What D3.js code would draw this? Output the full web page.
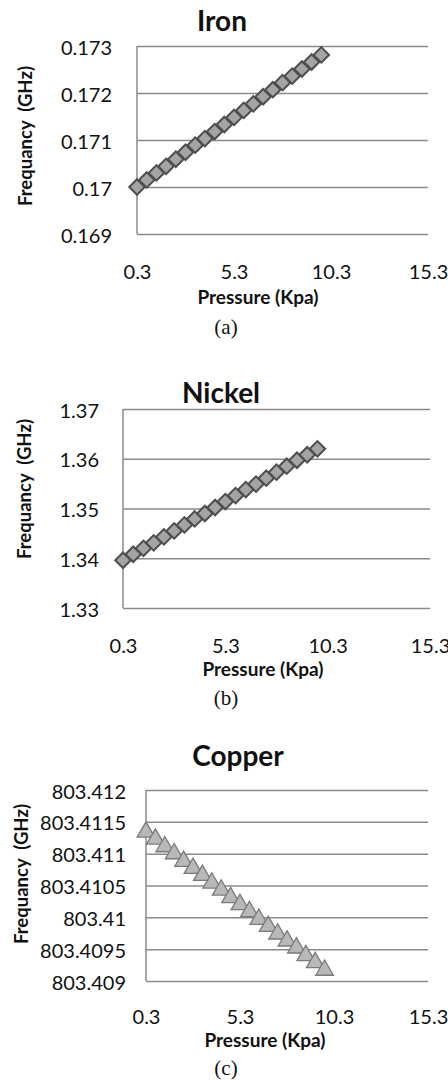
<!DOCTYPE html>
<html>
<head>
<meta charset="utf-8">
<title>Frequency vs pressure</title>
<script src="https://cdn.jsdelivr.net/npm/d3@7"></script>
<style>
  body { margin: 0; background: #fff; }
  svg { display: block; }
  text { font-family: Lato, "Open Sans", sans-serif; fill: #111; }
  .ytitle { white-space: pre; }
</style>
</head>
<body>
<div id="content"></div>
<script>
// pressure steps (Kpa), shared by all three samples
var pressure = [0.3, 0.8, 1.3, 1.8, 2.3, 2.8, 3.3, 3.8, 4.3, 4.8,
                5.3, 5.8, 6.3, 6.8, 7.3, 7.8, 8.3, 8.8, 9.3, 9.8];

var iron = [0.17000, 0.17015, 0.17030, 0.17044, 0.17059, 0.17074, 0.17089, 0.17103, 0.17118, 0.17133,
            0.17148, 0.17163, 0.17177, 0.17192, 0.17207, 0.17222, 0.17236, 0.17251, 0.17266, 0.17281];
var nickel = [1.3396, 1.3408, 1.3420, 1.3431, 1.3443, 1.3455, 1.3467, 1.3479, 1.3490, 1.3502,
              1.3514, 1.3526, 1.3538, 1.3549, 1.3561, 1.3573, 1.3585, 1.3597, 1.3608, 1.3620];
var copper = [803.41134, 803.41123, 803.41111, 803.41100, 803.41088, 803.41077, 803.41066, 803.41054, 803.41043, 803.41031,
              803.41020, 803.41009, 803.40997, 803.40986, 803.40974, 803.40963, 803.40952, 803.40940, 803.40929, 803.40917];

var xTicks = [0.3, 5.3, 10.3, 15.3];
var ironTicks = ["0.169", "0.17", "0.171", "0.172", "0.173"];
var nickelTicks = ["1.33", "1.34", "1.35", "1.36", "1.37"];
var copperTicks = ["803.409", "803.4095", "803.41", "803.4105", "803.411", "803.4115", "803.412"];

var svg = d3.select("#content").append("svg").attr("width", 448).attr("height", 1081);

var gridColor = "#8a8a8a";

function drawPanel(p) {
  var x = d3.scaleLinear().domain([0.3, 15.3]).range([p.left, p.right]);
  var yVals = p.ticks.map(Number);
  var y = d3.scaleLinear().domain(d3.extent(yVals)).range([p.bottom, p.top]);
  var g = svg.append("g");

  // gridlines + y tick labels
  var yAxis = d3.axisLeft(y).tickValues(yVals)
    .tickSize(-(p.right - p.left))
    .tickPadding(p.left - p.labelRight)
    .tickFormat(function(d, i) { return p.ticks[i]; });
  var ya = g.append("g").attr("transform", "translate(" + p.left + ",0)").call(yAxis);
  ya.select(".domain").remove();
  ya.selectAll("line").attr("stroke", gridColor).attr("stroke-width", 1.5);
  ya.selectAll("text").attr("font-size", 20).attr("fill", "#222")
    .style("font-family", "Lato, sans-serif").attr("dy", "0.4em");

  g.append("line").attr("x1", p.left).attr("x2", p.left)
    .attr("y1", p.top).attr("y2", p.bottom)
    .attr("stroke", gridColor).attr("stroke-width", 1.5);

  // x tick labels
  var xAxis = d3.axisBottom(x).tickValues(xTicks).tickSize(0)
    .tickFormat(function(d) { return d.toFixed(1); });
  var xa = g.append("g").attr("transform", "translate(0," + p.bottom + ")").call(xAxis);
  xa.select(".domain").remove();
  xa.selectAll("text").attr("font-size", 20).attr("fill", "#222")
    .style("font-family", "Lato, sans-serif")
    .attr("y", p.xTickBase - p.bottom).attr("dy", null);

  // markers
  var tri = p.shape == "tri";
  var sym = d3.symbol().type(tri ? d3.symbolTriangle : d3.symbolSquare)
    .size(tri ? 135 : 120);
  g.selectAll("path.pt").data(p.values).enter().append("path")
    .attr("class", "pt")
    .attr("d", sym)
    .attr("transform", function(d, i) {
      return "translate(" + x(pressure[i]) + "," + y(d) + ")" + (tri ? "" : " rotate(45)");
    })
    .attr("fill", tri ? "#b8b8b8" : "#a4a4a4")
    .attr("stroke", tri ? "#7a7a7a" : "#4e4e4e")
    .attr("stroke-width", tri ? 1.3 : 2);

  // titles
  g.append("text").text(p.title).attr("x", p.titleX).attr("y", p.titleY)
    .attr("text-anchor", "middle").attr("font-size", 28).attr("font-weight", "bold");
  g.append("text").attr("class", "ytitle").text("Frequancy  (GHz)")
    .attr("transform", "translate(" + p.yTitleX + "," + p.yTitleMid + ") rotate(-90)")
    .attr("text-anchor", "middle").attr("font-size", 18.5).attr("font-weight", "bold");
  g.append("text").text("Pressure (Kpa)").attr("x", p.xTitleX).attr("y", p.xTitleBase)
    .attr("text-anchor", "middle").attr("font-size", 19).attr("font-weight", "bold");
  g.append("text").text(p.caption).attr("x", 226).attr("y", p.capBase)
    .attr("text-anchor", "middle").attr("font-size", 21)
    .style("font-family", "'Liberation Serif', 'Times New Roman', serif");
}

drawPanel({ title: "Iron", caption: "(a)", values: iron, ticks: ironTicks, shape: "dia",
  left: 137, right: 428, top: 46, bottom: 234, labelRight: 112,
  titleX: 222, titleY: 31, yTitleX: 32, yTitleMid: 136,
  xTickBase: 279, xTitleX: 258, xTitleBase: 304, capBase: 334 });

drawPanel({ title: "Nickel", caption: "(b)", values: nickel, ticks: nickelTicks, shape: "dia",
  left: 123, right: 430, top: 409, bottom: 608, labelRight: 99,
  titleX: 221, titleY: 403, yTitleX: 31, yTitleMid: 489,
  xTickBase: 653, xTitleX: 263, xTitleBase: 676, capBase: 705 });

drawPanel({ title: "Copper", caption: "(c)", values: copper, ticks: copperTicks, shape: "tri",
  left: 146, right: 428, top: 790, bottom: 981, labelRight: 126,
  titleX: 238, titleY: 766, yTitleX: 28, yTitleMid: 874,
  xTickBase: 1024, xTitleX: 265, xTitleBase: 1047, capBase: 1075 });
</script>
</body>
</html>
